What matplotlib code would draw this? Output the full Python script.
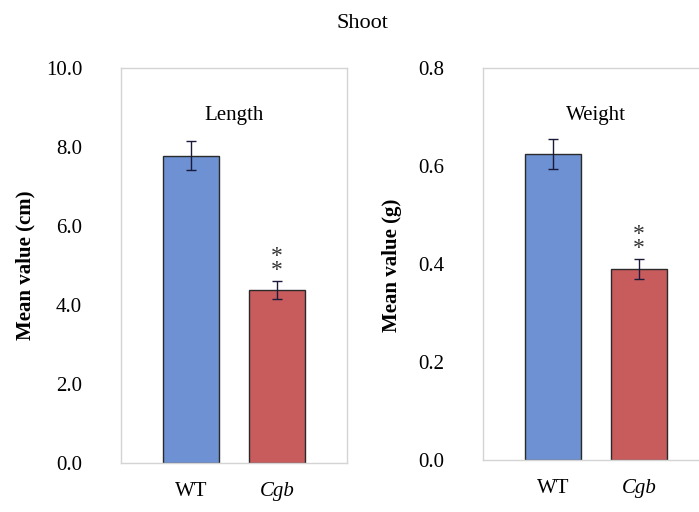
import matplotlib.pyplot as plt
from matplotlib import font_manager

groups = ['WT', 'Cgb']
length_mean = [7.78, 4.38]
length_err = [0.37, 0.23]
weight_mean = [0.624, 0.390]
weight_err = [0.031, 0.021]
bar_colors = ['#6d91d3', '#c85b5c']

plt.rcParams['font.family'] = ['Liberation Serif', 'DejaVu Serif']

fig = plt.figure(figsize=(6.99, 5.12), dpi=100)
W, H = 699, 512

# pick an installed serif italic for the mutant name
italic_family = 'DejaVu Serif'
for f in font_manager.fontManager.ttflist:
    if f.name == 'Liberation Serif' and f.style == 'italic':
        italic_family = 'Liberation Serif'
        break


def panel(rect, means, errs, ylim, ticks, fmt, title, ylabel, ylab_x):
    ax = fig.add_axes([rect[0] / W, 1 - rect[3] / H, (rect[2] - rect[0]) / W, (rect[3] - rect[1]) / H])
    x = [0.62, 1.38]
    ax.bar(x, means, width=0.5, color=bar_colors, edgecolor='#2a2a2a', linewidth=1.0, zorder=2)
    ax.errorbar(x, means, yerr=errs, fmt='none', ecolor='#1a1a3a', elinewidth=1.0,
                capsize=3.5, capthick=1.0, zorder=3)
    ax.text(x[1], means[1] + errs[1], '*\n*', ha='center', va='bottom',
            fontsize=17, linespacing=0.55, color='#333333')
    ax.set_xlim(0, 2.0)
    ax.set_ylim(*ylim)
    ax.set_yticks(ticks)
    ax.set_yticklabels([fmt.format(t) for t in ticks], fontsize=15)
    ax.set_xticks(x)
    ax.set_xticklabels(groups, fontsize=15)
    lab = ax.get_xticklabels()[1]
    lab.set_family(italic_family)
    lab.set_style('italic')
    ax.tick_params(axis='both', length=0)
    ax.tick_params(axis='y', pad=28)
    ax.tick_params(axis='x', pad=14)
    for s in ax.spines.values():
        s.set_color('#d4d4d4')
        s.set_linewidth(1.0)
    ax.text(0.5, 0.88, title, transform=ax.transAxes, ha='center', va='center', fontsize=15)
    fig.text(ylab_x / W, 1 - 265 / H, ylabel, rotation=90, ha='center', va='center',
             fontsize=15, fontweight='bold')
    return ax


panel((121, 68, 347, 463), length_mean, length_err, (0, 10), [0, 2, 4, 6, 8, 10],
      '{:.1f}', 'Length', 'Mean value (cm)', 25)
panel((483, 68, 709, 460), weight_mean, weight_err, (0, 0.8), [0, 0.2, 0.4, 0.6, 0.8],
      '{:.1f}', 'Weight', 'Mean value (g)', 392)

fig.text(362 / W, 1 - 24 / H, 'Shoot', ha='center', va='center', fontsize=16)

fig.savefig('out.png', dpi=100)
